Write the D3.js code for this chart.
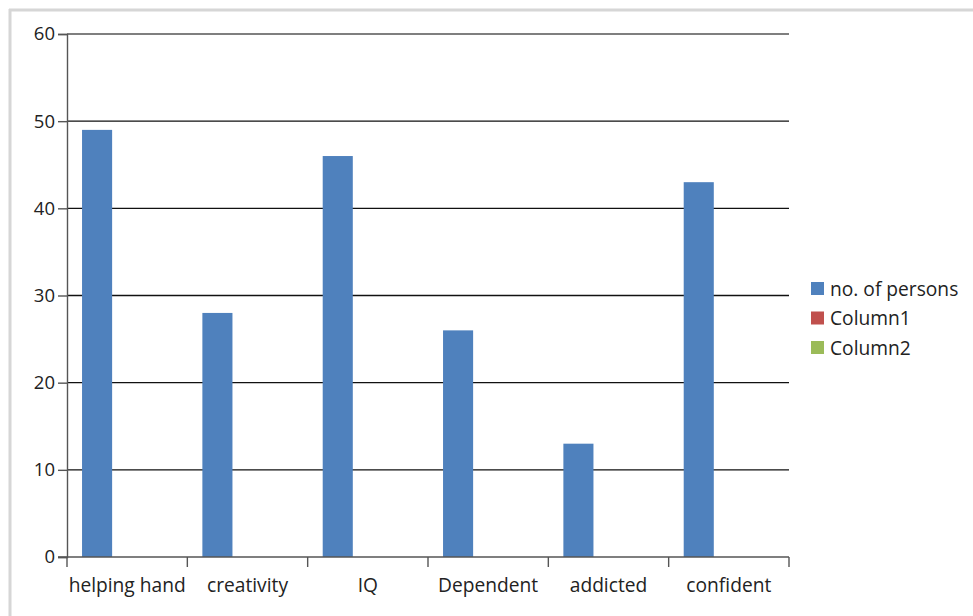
<!DOCTYPE html>
<html>
<head>
<meta charset="utf-8">
<script src="https://cdn.jsdelivr.net/npm/d3@7"></script>
<style>
  html, body { margin: 0; padding: 0; background: #fff; }
  svg { display: block; }
  text { font-family: "Open Sans", "Noto Sans", sans-serif; fill: #222; }
</style>
</head>
<body>
<svg id="chart" width="973" height="616"></svg>
<script>
// Survey categories and counts
const categories = ["helping hand", "creativity", "IQ", "Dependent", "addicted", "confident"];
const seriesNames = ["no. of persons", "Column1", "Column2"];
const persons = [49, 28, 46, 26, 13, 43];
const column1 = [null, null, null, null, null, null];
const column2 = [null, null, null, null, null, null];
const yTicks = [0, 10, 20, 30, 40, 50, 60];
const seriesColors = ["#4F81BD", "#C0504D", "#9BBB59"];

const seriesValues = [persons, column1, column2];

const svg = d3.select("#chart");
const margin = { left: 67, right: 184, top: 34, bottom: 59 };
const W = 973, H = 616;
const fontSize = 19.2;

// outer frame (top and left edges only)
svg.append("line").attr("x1", 9).attr("x2", W).attr("y1", 10).attr("y2", 10)
  .attr("stroke", "#d6d6d6").attr("stroke-width", 3);
svg.append("line").attr("x1", 10).attr("x2", 10).attr("y1", 9).attr("y2", H)
  .attr("stroke", "#d6d6d6").attr("stroke-width", 3);

const x = d3.scaleBand()
  .domain(categories)
  .range([margin.left, W - margin.right])
  .paddingInner(0).paddingOuter(0);

const xSeries = d3.scaleBand()
  .domain(seriesNames)
  .range([0, x.bandwidth()])
  .paddingInner(0)
  .paddingOuter(0.5);

const y = d3.scaleLinear()
  .domain([0, 60])
  .range([H - margin.bottom, margin.top]);

// horizontal gridlines
svg.append("g")
  .selectAll("line")
  .data(yTicks.filter(t => t > 0))
  .join("line")
  .attr("x1", margin.left)
  .attr("x2", W - margin.right)
  .attr("y1", d => y(d))
  .attr("y2", d => y(d))
  .attr("stroke", d => d === 60 ? "#555" : "#111")
  .attr("stroke-width", 1.4);

// bars
const rows = [];
seriesValues.forEach((vals, si) => {
  vals.forEach((v, ci) => {
    if (v != null) rows.push({ s: seriesNames[si], c: categories[ci], v, color: seriesColors[si] });
  });
});

svg.append("g")
  .selectAll("rect")
  .data(rows)
  .join("rect")
  .attr("x", d => x(d.c) + xSeries(d.s))
  .attr("width", xSeries.bandwidth())
  .attr("y", d => y(d.v))
  .attr("height", d => y(0) - y(d.v))
  .attr("fill", d => d.color);

// y axis
const yAxis = d3.axisLeft(y).tickValues(yTicks).tickSize(9).tickPadding(3);
const gy = svg.append("g")
  .attr("transform", `translate(${margin.left},0)`)
  .call(yAxis);
gy.select(".domain").attr("stroke", "#555").attr("stroke-width", 1.4);
gy.selectAll(".tick line").attr("stroke", "#555").attr("stroke-width", 1.4);
gy.selectAll(".tick text")
  .attr("font-size", 18.5)
  .attr("fill", "#222")
  .style("font-family", "'Open Sans', 'Noto Sans', sans-serif");

// x axis with ticks at category boundaries
const gx = svg.append("g")
  .attr("transform", `translate(0,${y(0)})`);
gx.append("line")
  .attr("x1", margin.left - 9).attr("x2", W - margin.right)
  .attr("stroke", "#555").attr("stroke-width", 1.6);
const boundaries = categories.map(c => x(c)).concat([x(categories[categories.length - 1]) + x.bandwidth()]);
gx.selectAll("line.tk")
  .data(boundaries)
  .join("line")
  .attr("class", "tk")
  .attr("x1", d => d).attr("x2", d => d)
  .attr("y1", 0).attr("y2", 10)
  .attr("stroke", "#555").attr("stroke-width", 1.4);
gx.selectAll("text")
  .data(categories)
  .join("text")
  .attr("x", d => x(d) + x.bandwidth() / 2)
  .attr("y", 35)
  .attr("text-anchor", "middle")
  .attr("font-size", fontSize)
  .text(d => d);

// legend
const legend = svg.append("g").attr("transform", "translate(811,289)");
const lg = legend.selectAll("g")
  .data(seriesNames)
  .join("g")
  .attr("transform", (d, i) => `translate(0,${i * 29.5})`);
lg.append("rect")
  .attr("x", 0).attr("y", -7)
  .attr("width", 13).attr("height", 13)
  .attr("fill", (d, i) => seriesColors[i]);
lg.append("text")
  .attr("x", 19).attr("y", 0)
  .attr("dy", "0.35em")
  .attr("font-size", fontSize)
  .text(d => d);
</script>
</body>
</html>
